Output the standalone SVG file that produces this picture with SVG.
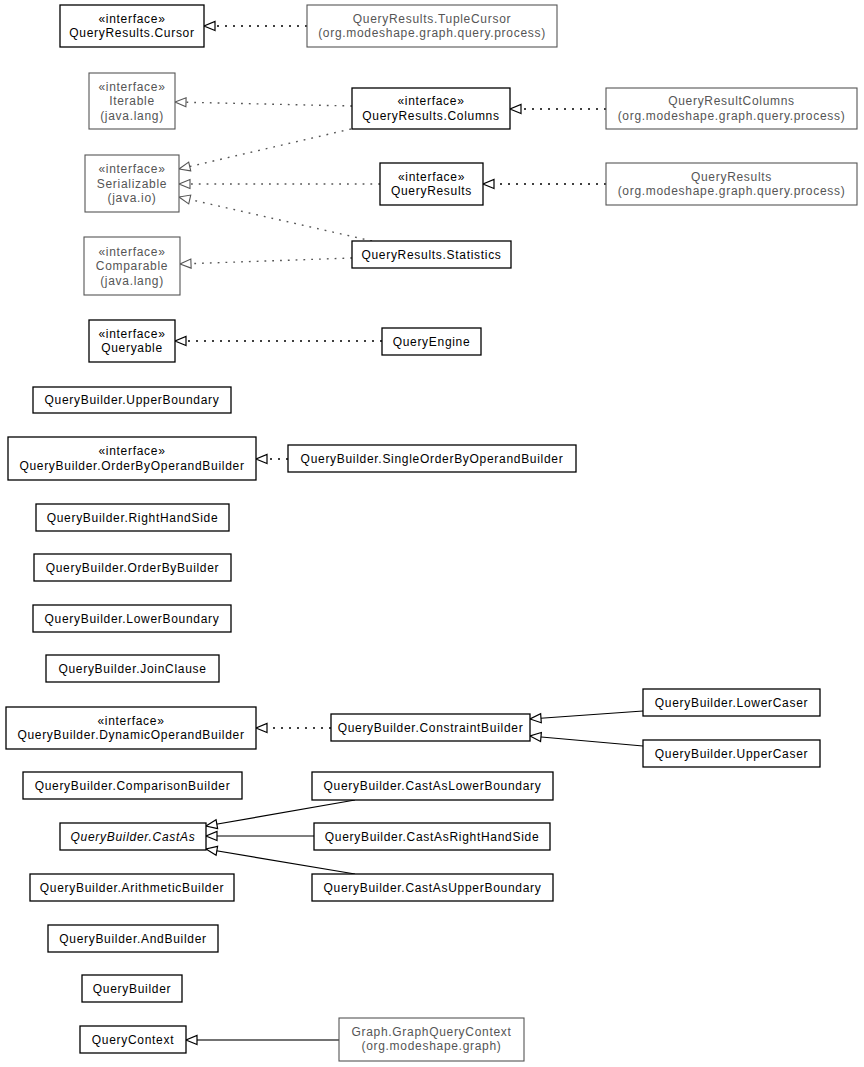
<svg xmlns="http://www.w3.org/2000/svg" width="864" height="1067" viewBox="0 0 864 1067">
<style>
  text { font-family: "Liberation Sans", Arial, sans-serif; font-size: 12px; letter-spacing: 0.7px; text-anchor: middle; fill: #000; }
  .g text { fill: #555; }
  .i { font-style: italic; }
  rect { fill: #fff; stroke: #000; stroke-width: 1.3; }
  .g rect { stroke: #555; stroke-width: 1.1; }
  .dot { fill: none; stroke: #000; stroke-width: 1.6; stroke-dasharray: 2 6; marker-end: url(#tri); }
  .dotg { fill: none; stroke: #555; stroke-width: 1.4; stroke-dasharray: 1.8 6; marker-end: url(#trig); }
  .sol { fill: none; stroke: #000; stroke-width: 1.2; marker-end: url(#tri); }
  .solg { fill: none; stroke: #444; stroke-width: 1.5; marker-end: url(#tri); }
</style>
<defs>
  <marker id="tri" markerUnits="userSpaceOnUse" markerWidth="13" markerHeight="11" refX="11" refY="4.5" orient="auto" overflow="visible">
    <path d="M0,0 L11,4.5 L0,9 z" fill="#fff" stroke="#000" stroke-width="1.2" stroke-dasharray="none"/>
  </marker>
  <marker id="trig" markerUnits="userSpaceOnUse" markerWidth="13" markerHeight="11" refX="11" refY="4.5" orient="auto" overflow="visible">
    <path d="M0,0 L11,4.5 L0,9 z" fill="#fff" stroke="#555" stroke-width="1.1" stroke-dasharray="none"/>
  </marker>
</defs>

<g id="connectors">
  <line class="dot" x1="307" y1="26" x2="204" y2="26"/>
  <line class="dotg" x1="352" y1="106" x2="175" y2="102"/>
  <line class="dotg" x1="351" y1="129" x2="179" y2="169"/>
  <line class="dotg" x1="380" y1="184" x2="179" y2="184"/>
  <line class="dotg" x1="372" y1="241" x2="179" y2="197"/>
  <line class="dotg" x1="352" y1="258" x2="180" y2="264"/>
  <line class="dot" x1="606" y1="109" x2="510" y2="109"/>
  <line class="dot" x1="606" y1="184" x2="483" y2="184"/>
  <line class="dot" x1="382" y1="341" x2="175" y2="341"/>
  <line class="dot" x1="288" y1="459" x2="256" y2="459"/>
  <line class="dot" x1="331" y1="728" x2="256" y2="728"/>
  <line class="sol" x1="643" y1="711" x2="530" y2="719"/>
  <line class="sol" x1="643" y1="746" x2="530" y2="736"/>
  <line class="sol" x1="355" y1="800" x2="206" y2="826"/>
  <line class="sol" x1="314" y1="836" x2="206" y2="836"/>
  <line class="sol" x1="355" y1="874" x2="206" y2="849"/>
  <line class="solg" x1="339" y1="1040" x2="186" y2="1040"/>
</g>

<g id="cursor"><rect x="60" y="5" width="144" height="42"/><text x="132" y="22.7">«interface»</text><text x="132" y="37">QueryResults.Cursor</text></g>
<g id="tupleCursor" class="g"><rect x="307" y="5" width="250" height="42"/><text x="432" y="22.7">QueryResults.TupleCursor</text><text x="432" y="37">(org.modeshape.graph.query.process)</text></g>
<g id="iterable" class="g"><rect x="89" y="73" width="86" height="56"/><text x="132" y="90.5">«interface»</text><text x="132" y="105">Iterable</text><text x="132" y="119.5">(java.lang)</text></g>
<g id="columns"><rect x="352" y="88" width="158" height="41"/><text x="431" y="105.2">«interface»</text><text x="431" y="119.5">QueryResults.Columns</text></g>
<g id="queryResultColumns" class="g"><rect x="606" y="88" width="251" height="41"/><text x="731.5" y="105.2">QueryResultColumns</text><text x="731.5" y="119.5">(org.modeshape.graph.query.process)</text></g>
<g id="serializable" class="g"><rect x="85" y="155" width="94" height="57"/><text x="132" y="173">«interface»</text><text x="132" y="187.5">Serializable</text><text x="132" y="202">(java.io)</text></g>
<g id="queryResults"><rect x="380" y="163" width="103" height="42"/><text x="431.5" y="180.7">«interface»</text><text x="431.5" y="195">QueryResults</text></g>
<g id="queryResultsImpl" class="g"><rect x="606" y="163" width="251" height="42"/><text x="731.5" y="180.7">QueryResults</text><text x="731.5" y="195">(org.modeshape.graph.query.process)</text></g>
<g id="statistics"><rect x="352" y="241" width="159" height="27"/><text x="431.5" y="258.5">QueryResults.Statistics</text></g>
<g id="comparable" class="g"><rect x="84" y="237" width="96" height="58"/><text x="132" y="255.5">«interface»</text><text x="132" y="270">Comparable</text><text x="132" y="284.5">(java.lang)</text></g>
<g id="queryable"><rect x="89" y="320" width="86" height="42"/><text x="132" y="337.7">«interface»</text><text x="132" y="352">Queryable</text></g>
<g id="queryEngine"><rect x="382" y="328" width="99" height="27"/><text x="431.5" y="345.5">QueryEngine</text></g>
<g id="upperBoundary"><rect x="33" y="387" width="198" height="26"/><text x="132" y="404">QueryBuilder.UpperBoundary</text></g>
<g id="orderByOperandBuilder"><rect x="8" y="437" width="248" height="43"/><text x="132" y="455.2">«interface»</text><text x="132" y="469.5">QueryBuilder.OrderByOperandBuilder</text></g>
<g id="singleOrderByOperandBuilder"><rect x="288" y="445" width="288" height="27"/><text x="432" y="462.5">QueryBuilder.SingleOrderByOperandBuilder</text></g>
<g id="rightHandSide"><rect x="36" y="504" width="193" height="27"/><text x="132.5" y="521.5">QueryBuilder.RightHandSide</text></g>
<g id="orderByBuilder"><rect x="34" y="554" width="197" height="27"/><text x="132.5" y="571.5">QueryBuilder.OrderByBuilder</text></g>
<g id="lowerBoundary"><rect x="33" y="605" width="198" height="27"/><text x="132" y="622.5">QueryBuilder.LowerBoundary</text></g>
<g id="joinClause"><rect x="46" y="655" width="173" height="27"/><text x="132.5" y="672.5">QueryBuilder.JoinClause</text></g>
<g id="dynamicOperandBuilder"><rect x="6" y="707" width="250" height="42"/><text x="131" y="724.7">«interface»</text><text x="131" y="739">QueryBuilder.DynamicOperandBuilder</text></g>
<g id="constraintBuilder"><rect x="331" y="714" width="199" height="27"/><text x="430.5" y="731.5">QueryBuilder.ConstraintBuilder</text></g>
<g id="lowerCaser"><rect x="643" y="689" width="177" height="27"/><text x="731.5" y="706.5">QueryBuilder.LowerCaser</text></g>
<g id="upperCaser"><rect x="643" y="740" width="177" height="27"/><text x="731.5" y="757.5">QueryBuilder.UpperCaser</text></g>
<g id="comparisonBuilder"><rect x="23" y="772" width="219" height="27"/><text x="132.5" y="789.5">QueryBuilder.ComparisonBuilder</text></g>
<g id="castAsLowerBoundary"><rect x="312" y="772" width="241" height="28"/><text x="432.5" y="790">QueryBuilder.CastAsLowerBoundary</text></g>
<g id="castAs"><rect x="60" y="823" width="146" height="27"/><text class="i" x="133" y="840.5">QueryBuilder.CastAs</text></g>
<g id="castAsRightHandSide"><rect x="314" y="823" width="236" height="27"/><text x="432" y="840.5">QueryBuilder.CastAsRightHandSide</text></g>
<g id="arithmeticBuilder"><rect x="30" y="874" width="204" height="27"/><text x="132" y="891.5">QueryBuilder.ArithmeticBuilder</text></g>
<g id="castAsUpperBoundary"><rect x="312" y="874" width="241" height="27"/><text x="432.5" y="891.5">QueryBuilder.CastAsUpperBoundary</text></g>
<g id="andBuilder"><rect x="48" y="925" width="170" height="27"/><text x="133" y="942.5">QueryBuilder.AndBuilder</text></g>
<g id="queryBuilder"><rect x="82" y="975" width="100" height="27"/><text x="132" y="992.5">QueryBuilder</text></g>
<g id="queryContext"><rect x="80" y="1026" width="106" height="27"/><text x="133" y="1043.5">QueryContext</text></g>
<g id="graphQueryContext" class="g"><rect x="339" y="1018" width="185" height="43"/><text x="431.5" y="1035.7">Graph.GraphQueryContext</text><text x="431.5" y="1050">(org.modeshape.graph)</text></g>
</svg>
